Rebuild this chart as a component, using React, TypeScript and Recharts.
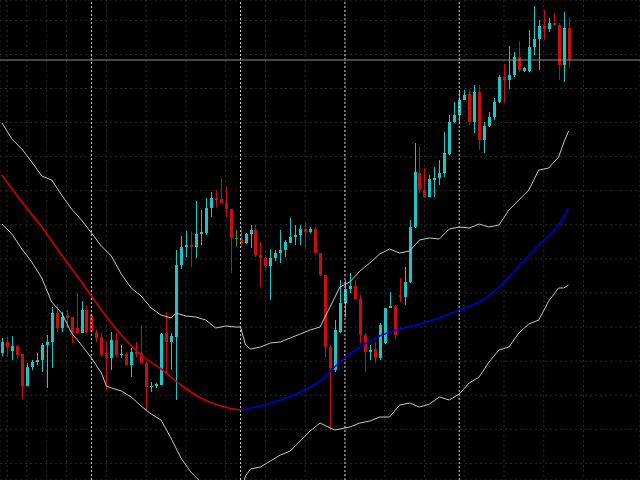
import React from 'react'
import {
  ComposedChart,
  Bar,
  Line,
  XAxis,
  YAxis,
  CartesianGrid,
  ReferenceLine,
} from 'recharts'

// candle prices in points, one entry per bar (oldest first)
const opens = [
  127, 138, 129, 134, 126, 94, 113, 118, 120, 135,
  138, 167, 152, 165, 163, 152, 147, 170, 165, 148,
  143, 127, 122, 140, 125, 126, 115, 128, 127, 117,
  93, 94, 95, 147, 138, 143, 215, 233, 235, 233,
  246, 247, 272, 282, 281, 277, 271, 242, 241, 237,
  246, 250, 225, 222, 214, 222, 227, 230, 237, 243,
  245, 251, 248, 251, 227, 205, 133, 110, 148, 177,
  191, 194, 181, 145, 128, 131, 122, 137, 172, 174,
  185, 183, 198, 253, 307, 290, 283, 300, 302, 307,
  326, 358, 365, 380, 386, 358, 388, 340, 354, 363,
  378, 403, 400, 405, 423, 409, 409, 433, 441, 454,
  451, 457, 455, 415, 452,
]
const closes = [
  138, 133, 134, 125, 94, 113, 118, 120, 135, 138,
  167, 152, 163, 162, 147, 147, 170, 148, 148, 142,
  125, 122, 140, 125, 126, 115, 128, 126, 117, 93,
  94, 96, 146, 138, 144, 215, 233, 235, 233, 246,
  248, 272, 282, 280, 277, 271, 242, 242, 237, 246,
  250, 225, 222, 214, 222, 227, 230, 238, 243, 245,
  251, 248, 251, 227, 205, 133, 112, 150, 177, 191,
  194, 181, 145, 128, 130, 122, 155, 172, 174, 145,
  183, 198, 253, 308, 290, 283, 301, 302, 307, 327,
  358, 365, 380, 385, 358, 388, 340, 354, 363, 378,
  403, 400, 405, 423, 410, 412, 433, 441, 454, 451,
  457, 455, 415, 452, 420,
]
const highs = [
  142, 143, 144, 135, 126, 117, 120, 127, 137, 145,
  173, 176, 168, 170, 163, 187, 179, 175, 167, 150,
  147, 138, 148, 147, 135, 128, 132, 138, 155, 118,
  98, 97, 147, 168, 147, 230, 244, 249, 248, 279,
  270, 282, 288, 290, 302, 293, 271, 250, 253, 247,
  255, 255, 238, 223, 231, 230, 250, 240, 262, 255,
  255, 257, 253, 253, 227, 205, 135, 160, 200, 200,
  207, 200, 185, 147, 135, 138, 157, 172, 188, 175,
  202, 213, 260, 337, 333, 312, 305, 313, 320, 348,
  365, 378, 390, 390, 390, 395, 395, 358, 368, 382,
  405, 416, 434, 428, 439, 413, 450, 474, 460, 470,
  462, 467, 457, 468, 463,
]
const lows = [
  124, 123, 120, 121, 81, 94, 110, 115, 108, 92,
  112, 148, 148, 152, 137, 147, 147, 147, 147, 138,
  123, 90, 110, 123, 122, 115, 103, 123, 117, 70,
  88, 92, 95, 108, 110, 80, 211, 223, 213, 222,
  235, 245, 263, 273, 277, 263, 207, 233, 233, 236,
  232, 223, 193, 210, 180, 219, 217, 223, 237, 235,
  235, 231, 247, 227, 204, 123, 50, 108, 147, 163,
  187, 180, 137, 108, 120, 117, 120, 136, 172, 141,
  178, 175, 197, 252, 287, 282, 283, 283, 295, 303,
  325, 357, 356, 380, 355, 347, 330, 327, 353, 360,
  377, 377, 391, 403, 408, 408, 408, 425, 410, 440,
  448, 454, 400, 398, 412,
]

// indicator readings as [bar index, value]
const upperBand = [
  [0, 357], [2, 341], [4, 331], [6, 318], [8, 304], [10, 300], [12, 285],
  [14, 271], [16, 260], [18, 247], [20, 234], [22, 224], [24, 206], [26, 192],
  [28, 184], [30, 172], [32, 165], [34, 162], [35, 167], [37, 164], [39, 163],
  [41, 160], [43, 152], [45, 154], [47, 153], [48, 153], [49, 135], [50, 131],
  [52, 133], [54, 137], [56, 138], [58, 142], [60, 146], [62, 150], [64, 153],
  [66, 173], [67, 183], [68, 193], [70, 198], [72, 209], [74, 217], [76, 226],
  [78, 231], [80, 227], [82, 229], [84, 240], [86, 242], [88, 241], [90, 251],
  [92, 253], [94, 252], [96, 256], [98, 253], [100, 255], [102, 270], [104, 280],
  [106, 290], [108, 310], [110, 312], [112, 323], [113, 337], [114, 349],
]
const lowerBand = [
  [0, 256], [2, 246], [4, 231], [6, 218], [8, 202], [10, 178], [12, 167],
  [14, 147], [16, 135], [18, 122], [20, 107], [21, 94], [22, 92], [24, 89],
  [26, 83], [28, 74], [30, 66], [32, 60], [34, 42], [36, 22], [38, 8],
  [40, -2], [42, -4], [44, -3], [46, -12], [48, -13], [49, 4], [50, 11],
  [52, 13], [54, 19], [56, 25], [58, 29], [60, 39], [62, 49], [64, 57],
  [66, 52], [67, 50], [68, 51], [70, 53], [72, 57], [74, 59], [76, 63],
  [78, 63], [80, 75], [82, 77], [84, 73], [86, 76], [88, 83], [90, 80],
  [92, 86], [94, 97], [96, 103], [98, 118], [100, 130], [102, 133], [104, 147],
  [106, 156], [108, 160], [110, 179], [112, 192], [113, 192], [114, 195],
]
const middleFalling = [
  [0, 305], [4, 278], [8, 253], [12, 225], [16, 198], [20, 170], [24, 145],
  [28, 125], [32, 111], [36, 95], [40, 82], [44, 74], [48, 70],
]
const middleRising = [
  [48, 70], [52, 74], [56, 80], [60, 88], [64, 99], [68, 118], [72, 133],
  [76, 144], [80, 151], [84, 156], [88, 162], [92, 170], [96, 178],
  [100, 193], [104, 214], [108, 235], [112, 255], [114, 272],
]

// session separators (bar index) and grid steps
const separators = [18, 48, 69, 92]
const timeTicks = Array.from({ length: 33 }, (_, k) => 1 + 4 * k)
const priceTicks = Array.from({ length: 28 }, (_, k) => 476.7 - 17.04 * k)

const BULL = '#20c4c4'
const BEAR = '#c41010'
const DOJI = '#2e8b2e'

const lookup = (pts: number[][]) => new Map(pts.map(([i, v]) => [i, v]))
const upMap = lookup(upperBand)
const loMap = lookup(lowerBand)
const fallMap = lookup(middleFalling)
const riseMap = lookup(middleRising)

const data = opens.map((open, i) => ({
  i,
  open,
  close: closes[i],
  high: highs[i],
  low: lows[i],
  range: [lows[i], highs[i]],
  upper: upMap.has(i) ? upMap.get(i) : null,
  lower: loMap.has(i) ? loMap.get(i) : null,
  midDown: fallMap.has(i) ? fallMap.get(i) : null,
  midUp: riseMap.has(i) ? riseMap.get(i) : null,
}))

const Candle = (props: any) => {
  const { x, y, width, height, payload } = props
  if (!payload || height == null) return null
  const { open, close, high, low } = payload
  const cx = Math.round(x + width / 2) + 0.5
  const span = high - low || 1
  const toY = (p: number) => y + ((high - p) / span) * height
  const color = open === close ? DOJI : close > open ? BULL : BEAR
  const top = toY(Math.max(open, close))
  const bottom = toY(Math.min(open, close))
  return (
    <g>
      <line x1={cx} x2={cx} y1={y} y2={y + height} stroke={color} strokeWidth={1} />
      <rect
        x={cx - 1.5}
        y={top}
        width={3}
        height={Math.max(1, bottom - top)}
        fill={color}
      />
    </g>
  )
}

const lineProps = {
  dot: false,
  activeDot: false,
  connectNulls: true,
  isAnimationActive: false,
} as const

export default function App() {
  return (
    <div
      style={{
        position: 'fixed',
        left: 0,
        top: 0,
        width: 640,
        height: 480,
        background: '#000',
        overflow: 'hidden',
      }}
    >
      <ComposedChart
        width={640}
        height={480}
        data={data}
        margin={{ top: 0, right: 0, bottom: 0, left: 0 }}
      >
        <CartesianGrid stroke="#2c2c2c" strokeDasharray="2 3" />
        <XAxis
          type="number"
          dataKey="i"
          domain={[-0.4, 128.37]}
          ticks={timeTicks}
          allowDataOverflow
          hide
        />
        <YAxis
          type="number"
          domain={[0, 480]}
          ticks={priceTicks}
          allowDataOverflow
          hide
        />
        {separators.map((s) => (
          <ReferenceLine key={s} x={s} stroke="#d0d0d0" strokeDasharray="2 2" />
        ))}
        <ReferenceLine y={closes[closes.length - 1]} stroke="#8c8c8c" />
        <Line dataKey="upper" stroke="#c8c8c8" strokeWidth={1} {...lineProps} />
        <Line dataKey="lower" stroke="#c8c8c8" strokeWidth={1} {...lineProps} />
        <Bar
          dataKey="range"
          barSize={3}
          shape={<Candle />}
          isAnimationActive={false}
        />
        <Line
          type="monotone"
          dataKey="midDown"
          stroke="#d00000"
          strokeWidth={1.6}
          {...lineProps}
        />
        <Line
          type="monotone"
          dataKey="midUp"
          stroke="#0000d0"
          strokeWidth={1.6}
          {...lineProps}
        />
      </ComposedChart>
    </div>
  )
}
